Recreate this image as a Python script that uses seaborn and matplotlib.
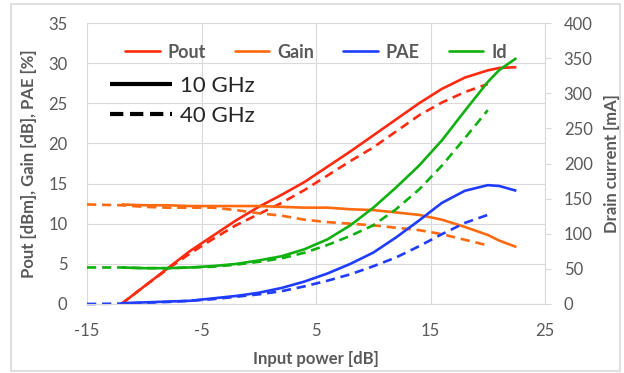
import matplotlib
matplotlib.use("Agg")
import matplotlib.pyplot as plt
from matplotlib.lines import Line2D
from matplotlib.patches import Rectangle
import seaborn as sns
import numpy as np

# ---------------- data ----------------
x10 = [-12, -10, -8, -6, -4, -2, 0, 2, 4, 6, 8, 10, 12, 14, 16, 18, 20, 21, 22.5]
pout10 = [0, 2.2, 4.4, 6.6, 8.5, 10.4, 12.1, 13.6, 15.2, 17.1, 19.0, 21.0, 23.0, 25.0, 26.8, 28.2, 29.1, 29.4, 29.5]
gain10 = [12.4, 12.3, 12.3, 12.2, 12.2, 12.2, 12.2, 12.1, 12.0, 12.0, 11.8, 11.7, 11.4, 11.1, 10.5, 9.6, 8.6, 7.9, 7.1]
pae10 = [0.1, 0.2, 0.3, 0.4, 0.7, 1.0, 1.4, 2.0, 2.8, 3.8, 5.0, 6.4, 8.3, 10.4, 12.6, 14.1, 14.8, 14.7, 14.1]
id10 = [52, 51, 51, 52, 54, 57, 62, 68, 78, 92, 112, 137, 166, 197, 233, 275, 316, 333, 350]

x40 = [-15, -12, -10, -8, -6, -4, -2, 0, 2, 4, 6, 8, 10, 12, 14, 16, 18, 20]
pout40 = [None, 0, 2.2, 4.3, 6.3, 8.1, 9.8, 11.2, 12.6, 14.2, 16.0, 17.8, 19.5, 21.5, 23.5, 25.1, 26.4, 27.4]
gain40 = [12.4, 12.3, 12.1, 12.0, 12.0, 12.0, 11.7, 11.3, 11.0, 10.5, 10.2, 10.0, 9.8, 9.5, 9.2, 8.7, 8.0, 7.3]
pae40 = [0, 0.05, 0.15, 0.25, 0.4, 0.6, 0.9, 1.2, 1.6, 2.2, 2.9, 3.7, 4.7, 5.8, 7.2, 8.7, 10.1, 11.1]
id40 = [52, 52, 51, 51, 52, 53, 56, 60, 65, 73, 84, 97, 112, 135, 163, 197, 236, 276]

series_names = ["Pout", "Gain", "PAE", "Id"]
freq_labels = ["10 GHz", "40 GHz"]
xticks = [-15, -5, 5, 15, 25]
yticks_left = [0, 5, 10, 15, 20, 25, 30, 35]
yticks_right = [0, 50, 100, 150, 200, 250, 300, 350, 400]

colors = {"Pout": "#FF2A10", "Gain": "#FF6A10", "PAE": "#1F3CFF", "Id": "#10B010"}

# ---------------- style ----------------
sns.set_style("white")
plt.rcParams["font.family"] = ["Lato", "DejaVu Sans"]
GRAY = "#595959"
GRID = "#D9D9D9"

W, H = 624, 373
fig = plt.figure(figsize=(W / 100, H / 100), dpi=100)
ax = fig.add_axes([87 / W, 1 - 304 / H, 458 / W, 281 / H])
ax2 = ax.twinx()

LW = 1.9
DASH = (3.5, 2.2)


def draw(axis, x, y, color, dashed):
    xs = [a for a, b in zip(x, y) if b is not None]
    ys = [b for b in y if b is not None]
    sns.lineplot(x=xs, y=ys, ax=axis, color=color, lw=LW, sort=False,
                 estimator=None, clip_on=False)
    ln = axis.lines[-1]
    if dashed:
        ln.set_dashes(DASH)
        ln.set_dash_capstyle("butt")
    ln.set_solid_capstyle("butt")
    ln.set_solid_joinstyle("round")


draw(ax, x10, pout10, colors["Pout"], False)
draw(ax, x40, pout40, colors["Pout"], True)
draw(ax, x10, gain10, colors["Gain"], False)
draw(ax, x40, gain40, colors["Gain"], True)
draw(ax, x10, pae10, colors["PAE"], False)
draw(ax, x40, pae40, colors["PAE"], True)
draw(ax2, x10, id10, colors["Id"], False)
draw(ax2, x40, id40, colors["Id"], True)

ax.set_xlim(-15, 25)
ax.set_ylim(0, 35)
ax2.set_ylim(0, 400)
ax.set_xticks(xticks)
ax.set_yticks(yticks_left)
ax2.set_yticks(yticks_right)
ax.set_xticklabels([str(t) for t in xticks])
ax.grid(True, color=GRID, lw=0.8)
ax.set_axisbelow(True)
for s in ["top", "left", "right"]:
    ax.spines[s].set_visible(False)
ax.spines["bottom"].set_color(GRID)
ax.spines["bottom"].set_linewidth(0.8)
for s in ["top", "left", "bottom"]:
    ax2.spines[s].set_visible(False)
ax2.spines["right"].set_visible(True)
ax2.spines["right"].set_color(GRID)
ax2.spines["right"].set_linewidth(0.8)

ax.tick_params(axis="x", length=0, pad=14, labelsize=12, labelcolor=GRAY)
ax.tick_params(axis="y", length=0, pad=14, labelsize=12, labelcolor=GRAY)
ax2.tick_params(axis="y", length=4.5, width=0.8, color=GRID, direction="out",
                pad=9, labelsize=12, labelcolor=GRAY)

ax.set_xlabel("Input power [dB]", fontsize=12, fontweight="bold", color=GRAY, labelpad=8)
ax.set_ylabel("Pout [dBm], Gain [dB], PAE [%]", fontsize=12, fontweight="bold", color=GRAY, labelpad=8)
ax2.set_ylabel("Drain current [mA]", fontsize=12, fontweight="bold", color=GRAY, labelpad=8)

# series legend
h1 = [Line2D([], [], color=colors[n], lw=1.9) for n in series_names]
leg1 = ax2.legend(h1, series_names, loc="center", bbox_to_anchor=(0.5, (304 - 52) / 281),
                  ncol=4, frameon=False, handlelength=1.9, handletextpad=0.45,
                  columnspacing=1.6, borderpad=0, borderaxespad=0,
                  prop={"family": ["Lato", "DejaVu Sans"], "weight": "bold", "size": 13})
for t in leg1.get_texts():
    t.set_color(GRAY)
ax2.add_artist(leg1)

# frequency legend
h2 = [Line2D([], [], color="black", lw=3.0, solid_capstyle="butt"),
      Line2D([], [], color="black", lw=3.0, dashes=(3.2, 1.6), dash_capstyle="butt")]
leg2 = ax2.legend(h2, freq_labels, loc="upper left",
                  bbox_to_anchor=((110 - 87) / 458, (304 - 76) / 281),
                  frameon=False, handlelength=2.8, handletextpad=0.35,
                  labelspacing=0.45, borderpad=0, borderaxespad=0,
                  prop={"family": ["Lato", "DejaVu Sans"], "size": 16})

# chart area border
fig.patches.append(Rectangle((11 / W, 1 - 371 / H), (620 - 11) / W, (371 - 4) / H,
                             transform=fig.transFigure, fill=False,
                             edgecolor=GRID, lw=1.2))

fig.savefig("out.png", dpi=100)
